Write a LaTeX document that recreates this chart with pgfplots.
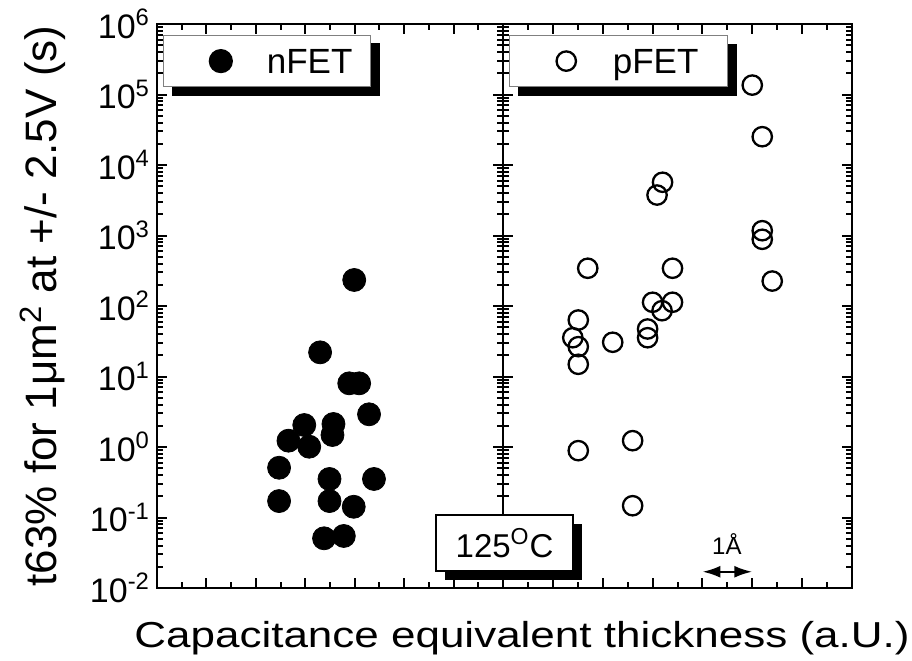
\documentclass[border=0pt]{standalone}
\usepackage{pgfplots}
\pgfplotsset{compat=1.18}
\usepackage{fontspec}
\setmainfont{Liberation Sans}
\usetikzlibrary{shadows,arrows.meta}
\pgfdeclarelayer{shadow}
\pgfsetlayers{shadow,main}

\begin{document}
\begin{tikzpicture}
\begin{axis}[at={(78.5pt,36pt)}, anchor=south west, width=173pt,
    scale only axis, ymode=log, ymin=1e-2, ymax=1e6, xmin=0, xmax=7,
    height=282pt,
    axis line style={line width=1.3pt},
    xtick={0,1,2,3,4,5,6,7}, minor x tick num=1, xticklabels={},
    ytick={1e-2,1e-1,1,1e1,1e2,1e3,1e4,1e5,1e6},
    minor ytick={2e-2,3e-2,4e-2,5e-2,6e-2,7e-2,8e-2,9e-2,
                 2e-1,3e-1,4e-1,5e-1,6e-1,7e-1,8e-1,9e-1,
                 2,3,4,5,6,7,8,9,
                 2e1,3e1,4e1,5e1,6e1,7e1,8e1,9e1,
                 2e2,3e2,4e2,5e2,6e2,7e2,8e2,9e2,
                 2e3,3e3,4e3,5e3,6e3,7e3,8e3,9e3,
                 2e4,3e4,4e4,5e4,6e4,7e4,8e4,9e4,
                 2e5,3e5,4e5,5e5,6e5,7e5,8e5,9e5},
    major tick length=5pt, minor tick length=3pt,
    tick style={black, line width=1pt},
    tick align=inside,
    legend cell align=left,
    legend style={name=nleg, draw=gray, line width=0.6pt, fill=white, inner sep=0pt,
      font=\fontsize{17.5pt}{20pt}\selectfont,
      nodes={inner sep=0pt, text depth=0pt},
      at={(axis description cs:0.018,0.9805)}, anchor=north west},
  yticklabels={10\textsuperscript{-2},10\textsuperscript{-1},10\textsuperscript{0},10\textsuperscript{1},10\textsuperscript{2},10\textsuperscript{3},10\textsuperscript{4},10\textsuperscript{5},10\textsuperscript{6}},
  yticklabel style={font=\fontsize{17pt}{19pt}\selectfont},
  ylabel={t63\% for 1μm\textsuperscript{2} at +/- 2.5V (s)},
  ylabel style={font=\fontsize{22pt}{26pt}\selectfont, at={(axis description cs:-0.29,0.5)}, anchor=base},
  legend image code/.code={\path[draw=none,fill=none] (0pt,-12.75pt) rectangle (51.5pt,12.75pt); \draw[#1] plot coordinates {(28.5pt,0pt)};}
]
\addplot[only marks, mark=*, mark size=5.75pt, black] table {
x y
3.30 22.0
3.89 8.0
4.09 8.0
4.29 2.91
2.98 2.05
3.57 2.12
3.55 1.48
2.66 1.23
3.08 1.01
2.47 0.508
3.49 0.352
4.39 0.352
2.47 0.171
3.49 0.171
3.98 0.142
3.38 0.0507
3.78 0.0547
3.99 234
};
\addlegendentry{nFET\hspace*{9.2pt}}
\end{axis}

\begin{axis}[at={(251.5pt,36pt)}, anchor=south west, width=174.5pt,
    scale only axis, ymode=log, ymin=1e-2, ymax=1e6, xmin=0, xmax=7,
    height=282pt,
    axis line style={line width=1.3pt},
    xtick={0,1,2,3,4,5,6,7}, minor x tick num=1, xticklabels={},
    ytick={1e-2,1e-1,1,1e1,1e2,1e3,1e4,1e5,1e6},
    minor ytick={2e-2,3e-2,4e-2,5e-2,6e-2,7e-2,8e-2,9e-2,
                 2e-1,3e-1,4e-1,5e-1,6e-1,7e-1,8e-1,9e-1,
                 2,3,4,5,6,7,8,9,
                 2e1,3e1,4e1,5e1,6e1,7e1,8e1,9e1,
                 2e2,3e2,4e2,5e2,6e2,7e2,8e2,9e2,
                 2e3,3e3,4e3,5e3,6e3,7e3,8e3,9e3,
                 2e4,3e4,4e4,5e4,6e4,7e4,8e4,9e4,
                 2e5,3e5,4e5,5e5,6e5,7e5,8e5,9e5},
    major tick length=5pt, minor tick length=3pt,
    tick style={black, line width=1pt},
    tick align=inside,
    legend cell align=left,
    legend style={name=pleg, draw=gray, line width=0.6pt, fill=white, inner sep=0pt,
      font=\fontsize{17.5pt}{20pt}\selectfont,
      nodes={inner sep=0pt, text depth=0pt},
      at={(axis description cs:0.018,0.9805)}, anchor=north west},
  yticklabels={},
  legend image code/.code={\path[draw=none,fill=none] (0pt,-12.75pt) rectangle (51.5pt,12.75pt); \draw[#1] plot coordinates {(28.2pt,0pt)};}
]
\addplot[only marks, mark=o, mark size=4.85pt, line width=1.15pt, black] table {
x y
5.00 1.36e5
5.20 2.52e4
3.20 5690
3.09 3750
5.20 1170
5.20 883
1.70 343
3.40 343
5.40 226
3.00 113
3.40 113
3.19 85.8
1.51 63.3
2.90 47.2
1.40 35.5
2.20 30.6
2.90 35.5
1.51 26.5
1.51 14.9
1.51 0.888
2.60 1.23
2.60 0.147
};
\addlegendentry{pFET\hspace*{14.5pt}}
\draw[{Latex[length=9pt,width=6pt]}-{Latex[length=9pt,width=6pt]}, line width=1.2pt] (axis cs:4,0.017) -- (axis cs:5,0.017);
\node[anchor=base, font=\fontsize{12pt}{14pt}\selectfont] at (axis cs:4.49,0.0294) {1Å};
\end{axis}

\begin{pgfonlayer}{shadow}
\fill[black] ([shift={(4.25pt,-4.25pt)}]nleg.south west) rectangle ([shift={(4.25pt,-4.25pt)}]nleg.north east);
\fill[black] ([shift={(4.25pt,-4.5pt)}]pleg.south west) rectangle ([shift={(4.25pt,-4.5pt)}]pleg.north east);
\end{pgfonlayer}

\node[draw=black, line width=0.8pt, fill=white, minimum width=68.5pt, minimum height=28pt, inner sep=0pt,
  drop shadow={shadow xshift=4.5pt, shadow yshift=-4.5pt, opacity=1, fill=black},
  font=\fontsize{16.5pt}{18pt}\selectfont] at (252.3pt,58.5pt) {125\textsuperscript{O}C};

\node[anchor=base, font=\fontsize{22pt}{26pt}\selectfont] at (261pt,6pt) {\scalebox{1}[0.82]{Capacitance equivalent thickness (a.U.)}};

\pgfresetboundingbox
\path[use as bounding box] (0,0) rectangle (456pt,330pt);
\end{tikzpicture}
\end{document}
